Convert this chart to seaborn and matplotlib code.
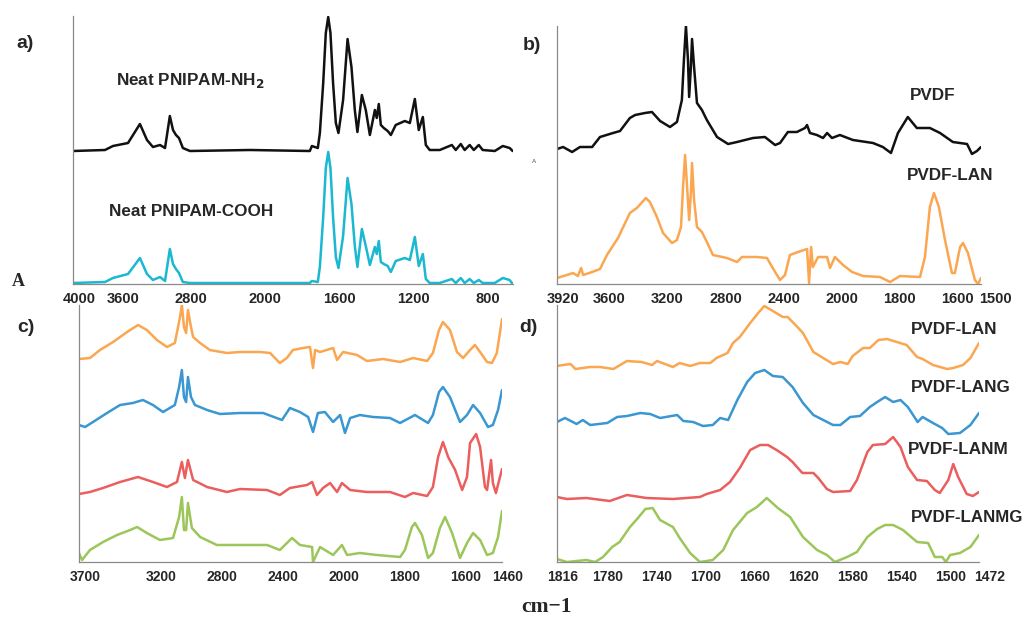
import numpy as np
import pandas as pd
import matplotlib
matplotlib.use('Agg')
import matplotlib.pyplot as plt
import matplotlib.transforms as mtrans
from matplotlib.ticker import MultipleLocator
import seaborn as sns

# ---- data: wavenumber (cm-1) and intensity (a.u., above each trace baseline) ----

# a) neat PNIPAM
wn_a = [4000, 3656, 3570, 3408, 3280, 3204, 3140, 3064, 3010, 2958, 2924, 2892, 2860, 2818, 2742,
        2096, 1726, 1715, 1683, 1672, 1654, 1640, 1627, 1615, 1601, 1586, 1572, 1547, 1523, 1502,
        1484, 1470, 1446, 1425, 1403, 1376, 1366, 1355, 1344, 1328, 1307, 1290, 1264, 1215, 1188,
        1161, 1140, 1118, 1102, 1081, 1027, 962, 941, 914, 893, 866, 844, 817, 796, 731,
        688, 651, 635]
nh2_a = [0, 1, 5, 8, 27, 11, 4, 6, 3, 35, 21, 16, 13, 3, 0,
         1, 0, 5, 3, 18, 68, 118, 134, 118, 68, 28, 18, 51, 112, 84,
         41, 19, 56, 41, 16, 41, 33, 47, 26, 23, 20, 16, 26, 30, 28,
         52, 21, 34, 6, 1, 1, 6, 1, 7, 1, 6, 1, 6, 1, 0,
         5, 3, 0]
cooh_a = [1, 2, 6, 10, 26, 10, 4, 7, 3, 35, 20, 15, 11, 2, 1,
          1, 1, 3, 2, 17, 67, 116, 132, 116, 67, 27, 16, 48, 106, 80,
          38, 17, 55, 38, 19, 37, 30, 43, 22, 20, 18, 12, 23, 26, 24,
          47, 18, 30, 5, 1, 1, 5, 1, 6, 1, 5, 1, 4, 1, 1,
          6, 4, 0]

# b) PVDF and PVDF-LAN
wn_pvdf = [3920, 3878, 3816, 3762, 3678, 3624, 3534, 3486, 3418, 3382, 3314, 3266, 3210, 3142, 3094,
           3060, 3046, 3032, 3018, 3010, 2998, 2990, 2976, 2956, 2922, 2888, 2818, 2742, 2680, 2570,
           2488, 2418, 2384, 2330, 2268, 2212, 2198, 2178, 2130, 2088, 2060, 2026, 1986, 1941, 1872,
           1838, 1810, 1786, 1752, 1721, 1676, 1641, 1597, 1548, 1531, 1514, 1500]
pvdf = [5, 7, 2, 7, 7, 17, 21, 23, 36, 39, 41, 42, 33, 27, 32,
        54, 94, 128, 94, 57, 87, 115, 87, 51, 44, 34, 17, 10, 12, 16,
        17, 9, 11, 22, 22, 26, 29, 21, 19, 16, 21, 16, 19, 14, 11,
        7, 1, 21, 37, 26, 26, 21, 12, 10, 0, 3, 7]
wn_lan_b = [3920, 3852, 3810, 3776, 3754, 3740, 3678, 3624, 3576, 3500, 3418, 3370, 3308, 3280, 3232,
            3190, 3128, 3094, 3066, 3052, 3038, 3024, 3010, 2998, 2990, 2976, 2956, 2922, 2888, 2846,
            2750, 2680, 2646, 2542, 2474, 2418, 2384, 2350, 2316, 2260, 2198, 2184, 2170, 2158, 2122,
            2060, 2040, 2006, 1975, 1944, 1906, 1848, 1813, 1779, 1710, 1693, 1676, 1662, 1645, 1624,
            1600, 1590, 1572, 1562, 1545, 1521, 1510, 1500]
lan_b = [6, 9, 11, 8, 16, 9, 12, 15, 29, 46, 71, 76, 86, 82, 67,
         51, 41, 44, 57, 97, 129, 97, 64, 91, 121, 84, 57, 52, 42, 29,
         26, 22, 27, 27, 26, 12, 4, 9, 29, 32, 35, 1, 37, 17, 27,
         27, 16, 27, 19, 12, 8, 7, 2, 8, 7, 27, 77, 91, 77, 44,
         11, 11, 37, 41, 31, 4, 0, 6]

# c) composites, 3700-1460 cm-1
wn_lan_c = [3700, 3628, 3562, 3476, 3384, 3312, 3254, 3188, 3122, 3070, 3036, 3024, 3010, 2996, 2984,
            2964, 2950, 2904, 2840, 2728, 2642, 2510, 2444, 2380, 2334, 2294, 2228, 2182, 2162, 2148,
            2116, 2030, 2004, 1982, 1936, 1904, 1851, 1795, 1752, 1706, 1687, 1667, 1654, 1631, 1608,
            1588, 1565, 1549, 1532, 1509, 1493, 1477, 1460]
lan_c = [13, 14, 22, 30, 40, 47, 42, 32, 25, 29, 55, 67, 45, 39, 62,
         45, 35, 29, 22, 19, 20, 20, 19, 9, 14, 22, 24, 25, 4, 22,
         20, 24, 12, 20, 17, 11, 13, 10, 14, 11, 19, 42, 50, 42, 20,
         14, 22, 27, 20, 10, 9, 19, 53]
wn_lang_c = [3700, 3660, 3608, 3516, 3430, 3346, 3280, 3214, 3148, 3070, 3042, 3024, 3010, 2996, 2984,
             2964, 2938, 2858, 2774, 2642, 2490, 2366, 2314, 2248, 2194, 2162, 2130, 2084, 2030, 1992,
             1976, 1959, 1927, 1884, 1828, 1795, 1746, 1703, 1687, 1667, 1654, 1631, 1598, 1575, 1555,
             1532, 1506, 1490, 1473, 1460]
lang_c = [12, 10, 15, 24, 32, 34, 37, 32, 25, 32, 50, 67, 40, 35, 60,
          40, 32, 27, 23, 24, 24, 17, 29, 25, 20, 5, 24, 25, 15, 22,
          4, 19, 22, 20, 19, 14, 22, 14, 22, 45, 50, 40, 15, 22, 32,
          24, 10, 12, 27, 47]
wn_lanm_c = [3700, 3628, 3542, 3430, 3312, 3214, 3122, 3056, 3024, 3004, 2984, 2950, 2858, 2728, 2642,
             2464, 2380, 2314, 2202, 2168, 2136, 2096, 2050, 2004, 1986, 1959, 1904, 1828, 1779, 1752,
             1706, 1687, 1670, 1654, 1637, 1614, 1591, 1575, 1565, 1545, 1532, 1516, 1509, 1496, 1490,
             1480, 1460]
lanm_c = [3, 5, 9, 15, 20, 15, 10, 15, 35, 19, 37, 17, 10, 5, 8,
          7, 2, 9, 12, 15, 2, 9, 14, 5, 14, 7, 5, 5, 0, 4,
          1, 10, 40, 55, 40, 27, 7, 20, 54, 63, 50, 10, 7, 37, 14,
          4, 28]
wn_lanmg_c = [3700, 3680, 3628, 3542, 3450, 3364, 3318, 3254, 3168, 3082, 3042, 3024, 3010, 2996, 2984,
              2958, 2904, 2794, 2642, 2464, 2380, 2300, 2248, 2168, 2162, 2116, 2030, 1986, 1969, 1927,
              1871, 1795, 1779, 1756, 1746, 1723, 1703, 1687, 1664, 1647, 1624, 1598, 1575, 1555, 1532,
              1509, 1490, 1473, 1460]
lanmg_c = [9, 2, 12, 20, 27, 32, 35, 29, 22, 24, 45, 65, 32, 32, 59,
           34, 25, 17, 17, 17, 12, 24, 17, 15, 0, 15, 7, 17, 7, 9,
           7, 5, 12, 35, 39, 27, 4, 9, 34, 45, 29, 4, 19, 29, 22,
           7, 9, 25, 51]

# d) composites, 1816-1472 cm-1
wn_lan_d = [1816, 1811, 1805, 1801, 1789, 1781, 1770, 1759, 1747, 1738.5, 1734.5, 1721.5, 1716, 1707.5, 1699.5,
            1691, 1686, 1677, 1672.5, 1667, 1658.5, 1652, 1647, 1640, 1632, 1628, 1620, 1615.5, 1607, 1599,
            1591, 1585, 1579, 1575, 1566.5, 1561, 1554, 1547, 1539, 1531, 1522.5, 1518, 1509.5, 1498, 1493,
            1485, 1479, 1472]
lan_d = [6, 7, 8, 3, 5, 5, 3, 11, 10, 7, 11, 5, 9, 6, 9,
         9, 14, 19, 29, 35, 49, 59, 66, 61, 55, 55, 45, 39, 20, 14,
         8, 10, 8, 16, 24, 24, 32, 33, 30, 27, 15, 13, 7, 3, 4,
         7, 14, 29]
wn_lang_d = [1816, 1809.5, 1800, 1795, 1789, 1775, 1767, 1759, 1748, 1740, 1732, 1718, 1713, 1705, 1697,
             1689, 1683, 1676.5, 1669, 1661, 1654.5, 1647, 1640, 1632, 1624, 1615.5, 1607, 1599, 1591, 1585,
             1577, 1569, 1561, 1555, 1548.5, 1542, 1536, 1530, 1522, 1518, 1509.5, 1502, 1497, 1487.5, 1479,
             1472]
lang_d = [15, 19, 13, 17, 12, 14, 20, 21, 24, 23, 19, 22, 16, 15, 11,
          12, 19, 17, 37, 55, 64, 67, 61, 60, 50, 34, 22, 17, 12, 12,
          20, 21, 30, 35, 40, 35, 37, 30, 15, 20, 14, 9, 3, 4, 12,
          24]
wn_lanm_d = [1816, 1808, 1792, 1773, 1759, 1743, 1721.5, 1699.5, 1694, 1683, 1675, 1667, 1658.5, 1650.5, 1644,
             1637, 1628.5, 1624, 1616, 1607, 1603, 1596, 1591, 1577, 1571.5, 1563, 1558.5, 1548.5, 1542, 1536,
             1530, 1522.5, 1514.5, 1508, 1504, 1497, 1493, 1489, 1482, 1477, 1472]
lanm_d = [5, 3, 4, 1, 7, 4, 3, 5, 8, 12, 20, 34, 52, 57, 57,
          52, 45, 40, 29, 29, 24, 13, 10, 11, 22, 50, 57, 58, 65, 55,
          35, 22, 21, 12, 9, 22, 38, 25, 8, 6, 10]
wn_lanmg_d = [1816, 1808, 1792, 1785, 1778.5, 1771, 1765, 1756.5, 1750, 1744, 1738, 1732, 1721.5, 1716, 1707.5,
              1699.5, 1689, 1680.5, 1672.5, 1661, 1653, 1645, 1636, 1626, 1615.5, 1604, 1596, 1589.5, 1579.5, 1571.5,
              1563, 1555, 1548.5, 1542, 1534, 1522.5, 1513.5, 1508, 1502, 1499, 1495.5, 1487.5, 1479, 1472]
lanmg_d = [3, 0, 2, 0, 5, 15, 20, 35, 44, 53, 54, 42, 35, 24, 9,
           0, 2, 12, 32, 49, 55, 64, 54, 45, 25, 12, 7, 0, 5, 10,
           25, 33, 37, 37, 32, 20, 19, 5, 5, 0, 7, 9, 15, 27]

ticks_a = [4000, 3600, 2800, 2000, 1600, 1200, 800]
minor_a = [3200, 2400, 1800, 1400, 1000]
ticks_b = [3920, 3600, 3200, 2800, 2400, 2000, 1800, 1600, 1500]
ticks_c = [3700, 3200, 2800, 2400, 2000, 1800, 1600, 1460]
minor_c = [3600]
ticks_d = [1816, 1780, 1740, 1700, 1660, 1620, 1580, 1540, 1500, 1472]

BLACK = '#111111'
CYAN = '#1BB8D1'
ORANGE = '#FBA650'
BLUE = '#3A97D2'
RED = '#EA5F5E'
GREEN = '#9CC65A'


# FTIR style axis: region above 2000 cm-1 is compressed two-fold
def wn_fwd(w):
    w = np.asarray(w, dtype=float)
    return np.where(w > 2000, 2000 + (w - 2000) / 2, w)


def wn_inv(u):
    u = np.asarray(u, dtype=float)
    return np.where(u > 2000, 2000 + (u - 2000) * 2, u)


sns.set_style('white')
plt.rcParams['font.family'] = ['Liberation Sans', 'DejaVu Sans']

W, H = 1025, 619
fig = plt.figure(figsize=(W / 100, H / 100), dpi=100)


def px_axes(left, top, right, bottom):
    return fig.add_axes([left / W, 1 - bottom / H, (right - left) / W, (bottom - top) / H])


def draw(ax, traces):
    for wn, vals, off, col in traces:
        df = pd.DataFrame({'wn': wn, 'absorb': np.asarray(vals, dtype=float) + off})
        sns.lineplot(data=df, x='wn', y='absorb', ax=ax, color=col, lw=1.8,
                     estimator=None, sort=False)
    ax.set_xlabel('')
    ax.set_ylabel('')


def style(ax, ticks, minor, ystep, labelsize=10.5, nudge=None):
    sns.despine(ax=ax)
    for s in ('left', 'bottom'):
        ax.spines[s].set_color('#8a8a8a')
        ax.spines[s].set_linewidth(0.9)
    ax.set_xticks(ticks)
    ax.set_xticklabels([str(t) for t in ticks], fontweight='bold', fontsize=labelsize)
    if minor:
        ax.set_xticks(minor, minor=True)
    ax.tick_params(axis='x', which='both', direction='out', length=3, width=0.8,
                   color='#8a8a8a', pad=3)
    ax.yaxis.set_major_locator(MultipleLocator(ystep))
    ax.tick_params(axis='y', direction='out', length=2.5, width=0.6, color='#8a8a8a',
                   labelleft=False)
    ax.grid(False)
    # labels in the source sit a little right of their tick marks
    nudge = nudge or {}
    for t, tick in zip(ticks, ax.xaxis.get_major_ticks()):
        dx = (6 + nudge.get(t, 0)) / 100
        tick.label1.set_transform(tick.label1.get_transform() +
                                  mtrans.ScaledTranslation(dx, 0, fig.dpi_scale_trans))


# a)
ax_a = px_axes(73, 16, 513, 284)
ax_a.set_xscale('function', functions=(wn_fwd, wn_inv))
draw(ax_a, [(wn_a, nh2_a, 133, BLACK), (wn_a, cooh_a, 0, CYAN)])
ax_a.set_xlim(4000, 633)
ax_a.set_ylim(0, 268)
style(ax_a, ticks_a, minor_a, 14.7, nudge={3600: 7})

# b)
ax_b = px_axes(557, 26, 981, 284)
ax_b.set_xscale('function', functions=(wn_fwd, wn_inv))
draw(ax_b, [(wn_pvdf, pvdf, 130, BLACK), (wn_lan_b, lan_b, 0, ORANGE)])
ax_b.set_xlim(3920, 1500)
ax_b.set_ylim(0, 258)
style(ax_b, ticks_b, None, 19.1, nudge={1600: -1, 1500: 8})

# c)
ax_c = px_axes(79, 305, 502, 562)
ax_c.set_xscale('function', functions=(wn_fwd, wn_inv))
draw(ax_c, [(wn_lan_c, lan_c, 190, ORANGE), (wn_lang_c, lang_c, 125, BLUE),
            (wn_lanm_c, lanm_c, 65, RED), (wn_lanmg_c, lanmg_c, 0, GREEN)])
ax_c.set_xlim(3700, 1460)
ax_c.set_ylim(0, 257)
style(ax_c, ticks_c, minor_c, 19.5, labelsize=10)

# d)
ax_d = px_axes(557, 305, 979, 562)
draw(ax_d, [(wn_lan_d, lan_d, 190, ORANGE), (wn_lang_d, lang_d, 125, BLUE),
            (wn_lanm_d, lanm_d, 60, RED), (wn_lanmg_d, lanmg_d, 0, GREEN)])
ax_d.set_xlim(1816, 1472)
ax_d.set_ylim(0, 257)
style(ax_d, ticks_d, list(range(1800, 1479, -20)), 21, labelsize=10, nudge={1472: 5})


def ftext(x, y, s, **kw):
    fig.text(x / W, 1 - y / H, s, **kw)


bold = dict(fontweight='bold', va='center')
ftext(25, 43, 'a)', fontsize=14, ha='center', **bold)
ftext(532, 45, 'b)', fontsize=14, ha='center', **bold)
ftext(26, 328, 'c)', fontsize=14, ha='center', **bold)
ftext(528, 328, 'd)', fontsize=14, ha='center', **bold)

ftext(190, 80, 'Neat PNIPAM-NH$_\\mathbf{2}$', fontsize=12.3, ha='center', **bold)
ftext(191, 212, 'Neat PNIPAM-COOH', fontsize=12.3, ha='center', **bold)
ftext(933, 95, 'PVDF', fontsize=12.3, ha='center', **bold)
ftext(950, 175, 'PVDF-LAN', fontsize=12.3, ha='center', **bold)

ftext(911, 329, 'PVDF-LAN', fontsize=12.3, ha='left', **bold)
ftext(911, 388, 'PVDF-LANG', fontsize=12.3, ha='left', **bold)
ftext(908, 449, 'PVDF-LANM', fontsize=12.3, ha='left', **bold)
ftext(911, 518, 'PVDF-LANMG', fontsize=12.2, ha='left', **bold)

ftext(534, 161, 'A', fontsize=4.5, ha='center', va='center', color='#555555')
ftext(18, 282, 'A', fontsize=13, ha='center', va='center', fontweight='bold',
      family=['Liberation Serif', 'DejaVu Serif'])
ftext(547, 607, 'cm\u22121', fontsize=15.5, ha='center', va='center', fontweight='bold',
      family=['Liberation Serif', 'DejaVu Serif'])

fig.savefig('out.png', dpi=100)
